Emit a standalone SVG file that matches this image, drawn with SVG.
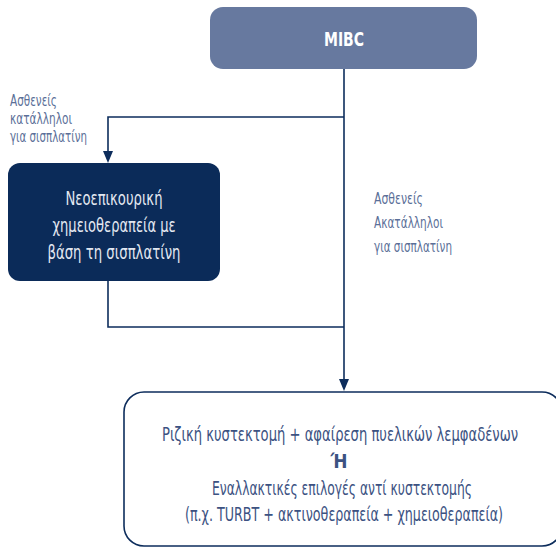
<svg xmlns="http://www.w3.org/2000/svg" width="556" height="549" viewBox="0 0 556 549">
<style>
.t{font-family:"DejaVu Sans Condensed","Liberation Sans",sans-serif;}
.lbl{font-size:15px;fill:#5b6f98;}
.conn{fill:none;stroke:#0d2d5c;stroke-width:1.6;}
.main{font-size:19px;fill:#3c5282;text-anchor:middle;}
.nd{font-size:19px;fill:#e3e8f1;text-anchor:middle;}
</style>
<rect width="556" height="549" fill="#ffffff"/>
<g id="connectors">
<path class="conn" d="M344,69 V380"/>
<path class="conn" d="M344,117 H108 V152"/>
<path class="conn" d="M108,281 V327 H344"/>
<path d="M339,379 L349,379 L344,391 Z" fill="#0d2d5c"/>
<path d="M103,151 L113,151 L108,163 Z" fill="#0d2d5c"/>
</g>
<g id="mibc">
<rect x="210" y="7" width="267" height="62" rx="13" fill="#67799f"/>
<text class="t" x="344" y="46" font-size="19" font-weight="bold" fill="#ffffff" text-anchor="middle" textLength="40" lengthAdjust="spacingAndGlyphs">MIBC</text>
</g>
<g id="label-left">
<text class="t lbl" x="10" y="106" textLength="47" lengthAdjust="spacingAndGlyphs">Ασθενείς</text>
<text class="t lbl" x="10" y="124" textLength="62" lengthAdjust="spacingAndGlyphs">κατάλληλοι</text>
<text class="t lbl" x="10" y="142" textLength="77" lengthAdjust="spacingAndGlyphs">για σισπλατίνη</text>
</g>
<g id="neoadjuvant">
<rect x="8" y="163" width="212" height="118" rx="12" fill="#0b2b59"/>
<text class="t nd" x="114" y="205" textLength="97" lengthAdjust="spacingAndGlyphs">Νεοεπικουρική</text>
<text class="t nd" x="114" y="232" textLength="123" lengthAdjust="spacingAndGlyphs">χημειοθεραπεία με</text>
<text class="t nd" x="114" y="259" textLength="133" lengthAdjust="spacingAndGlyphs">βάση τη σισπλατίνη</text>
</g>
<g id="label-right">
<text class="t lbl" x="374" y="204" textLength="49" lengthAdjust="spacingAndGlyphs">Ασθενείς</text>
<text class="t lbl" x="374" y="228" textLength="69" lengthAdjust="spacingAndGlyphs">Ακατάλληλοι</text>
<text class="t lbl" x="374" y="252" textLength="78" lengthAdjust="spacingAndGlyphs">για σισπλατίνη</text>
</g>
<g id="treatment">
<rect x="124" y="392" width="438" height="154" rx="20" fill="#ffffff" stroke="#0d2d5c" stroke-width="1.6"/>
<text class="t main" transform="translate(340,441) scale(0.75,1)" x="0" y="0" textLength="474.7" lengthAdjust="spacingAndGlyphs">Ριζική κυστεκτομή + αφαίρεση πυελικών λεμφαδένων</text>
<text class="t main" x="339" y="468" font-size="17" font-weight="bold" fill="#0d2d5c" textLength="17" lengthAdjust="spacingAndGlyphs">Ή</text>
<text class="t main" transform="translate(342,495) scale(0.75,1)" x="0" y="0" textLength="346.7" lengthAdjust="spacingAndGlyphs">Εναλλακτικές επιλογές αντί κυστεκτομής</text>
<text class="t main" transform="translate(344,521) scale(0.75,1)" x="0" y="0" textLength="424" lengthAdjust="spacingAndGlyphs">(π.χ. TURBT + ακτινοθεραπεία + χημειοθεραπεία)</text>
</g>
</svg>
